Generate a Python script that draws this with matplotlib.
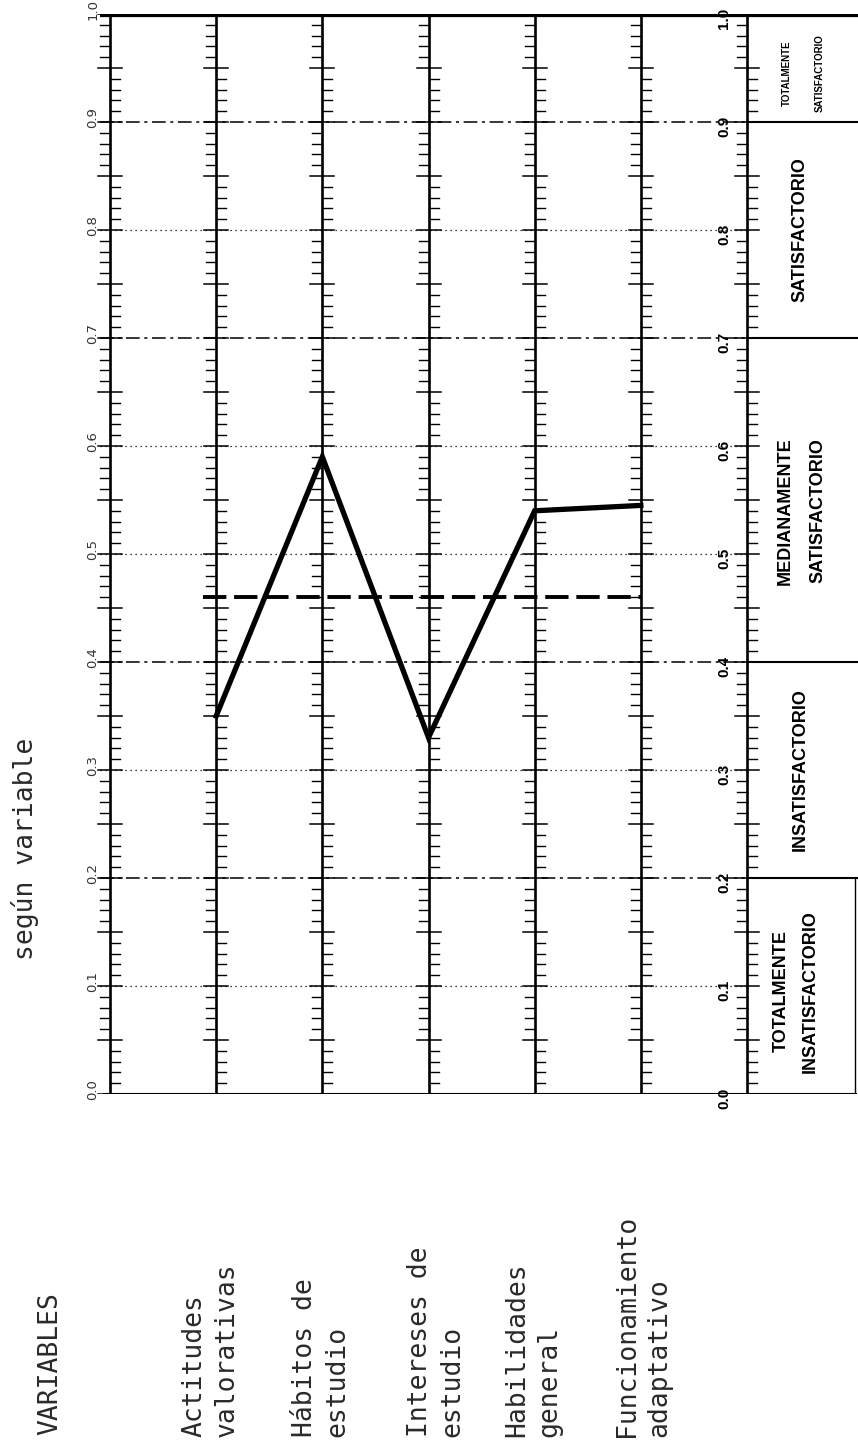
import numpy as np
import matplotlib
matplotlib.use("Agg")
import matplotlib.pyplot as plt

# ---- data read from the scanned profile ----
variables = ["Actitudes\nvalorativas", "Hábitos de\nestudio", "Intereses de\nestudio",
             "Habilidades\ngeneral", "Funcionamiento\nadaptativo"]
valores = [0.35, 0.59, 0.33, 0.54, 0.545]
promedio = 0.46
limites = [0.0, 0.2, 0.4, 0.7, 0.9, 1.0]
niveles = ["TOTALMENTE\nINSATISFACTORIO", "INSATISFACTORIO", "MEDIANAMENTE\nSATISFACTORIO",
           "SATISFACTORIO", "TOTALMENTE\nSATISFACTORIO"]
escala = [round(0.1 * k, 1) for k in range(11)]
lineas_guion = [0.2, 0.4, 0.7, 0.9]
lineas_punto = [0.1, 0.3, 0.5, 0.6, 0.8]

W, H = 858, 1445
PX = 106.17  # pixels between two vertical scales
X0 = 110     # pixel of first scale


def ix(xp):
    return (xp - X0) / PX


fig = plt.figure(figsize=(W / 100, H / 100), dpi=100)
ax = fig.add_axes([0, (H - 1094) / H, 1, 1080 / H])
ax.set_xlim(ix(0), ix(W))
ax.set_ylim(0, 1)
ax.axis('off')

posiciones = np.arange(1, len(variables) + 1)
ejes = np.arange(0, len(variables) + 2)  # left scale, 5 variables, right scale

# grid lines
for v in lineas_guion:
    ax.plot([ix(100), ejes[-1]], [v, v], color='black', lw=1.1,
            linestyle=(0, (9, 3, 2, 3)))
for v in lineas_punto:
    ax.plot([ix(100), ejes[-1]], [v, v], color='black', lw=0.9,
            linestyle=(0, (1, 3)))

# vertical scales with ticks
minor = 10 / PX
cross = 12 / PX
for e in ejes:
    ax.plot([e, e], [0, 1], color='black', lw=1.9, solid_capstyle='butt')
    for k in range(0, 101):
        v = k / 100
        if k % 5 == 0:
            ax.plot([e - cross, e + cross], [v, v], color='black', lw=1.1)
        else:
            start = (k // 5) * 5
            if start % 10 == 0:
                ax.plot([e, e + minor], [v, v], color='black', lw=1.0)
            else:
                ax.plot([e - minor, e], [v, v], color='black', lw=1.0)

# frame: thick top, bottom line, category band
ax.plot([ix(100), ix(W)], [1, 1], color='black', lw=4.5, solid_capstyle='butt')
ax.plot([ix(104), ix(856)], [0, 0], color='black', lw=1.5)
for v in limites[1:-1]:
    ax.plot([ejes[-1], ix(W)], [v, v], color='black', lw=1.5)
ax.plot([ix(855), ix(855)], [0, 0.2], color='black', lw=1.0)

# scale labels
for v in escala:
    ax.text(ix(93), v + 0.004, f"{v:.1f}", rotation=90, ha='center', va='center',
            fontsize=9.5, color='#333333', family='DejaVu Sans')
    ax.text(ix(724), v - 0.004, f"{v:.1f}", rotation=90, ha='center', va='center',
            fontsize=11, fontweight='bold', family='Liberation Sans')

# category band labels
centros = [0.095, 0.3, 0.54, 0.8, 0.945]
for nombre, c in zip(niveles, centros):
    partes = nombre.split("\n")
    if len(partes) == 1:
        xs = [800]
    elif c > 0.9:
        xs = [787, 820]
    elif c < 0.2:
        xs = [781, 810]
    else:
        xs = [785, 818]
    fs = 7 if c > 0.9 else 13
    for p, xp in zip(partes, xs):
        ax.text(ix(xp), c, p, rotation=90, ha='center', va='center', fontsize=fs,
                fontweight='bold', family='Liberation Sans')

# mean line and profile
ax.plot([ix(203), posiciones[-1]], [promedio, promedio], color='black', lw=2.8,
        linestyle=(0, (6, 2)), dash_capstyle='butt')
ax.plot(posiciones, valores, color='black', lw=3.8, solid_joinstyle='miter')

# texts below and left of the chart
def fig_txt(xp, yp, s, **kw):
    fig.text(xp / W, 1 - yp / H, s, rotation=90, **kw)

mono = dict(family='DejaVu Sans Mono', fontsize=19, color='#2a2a2a',
            linespacing=1.3, ha='center', va='bottom', multialignment='left')
fig_txt(25, 960, "según variable", **mono)
fig_txt(50, 1435, "VARIABLES", **mono)
label_x = [211, 321, 436, 533, 643]
for nombre, xp in zip(variables, label_x):
    fig_txt(xp, 1437, nombre, **mono)

fig.savefig("out.png", dpi=100, facecolor='white')
